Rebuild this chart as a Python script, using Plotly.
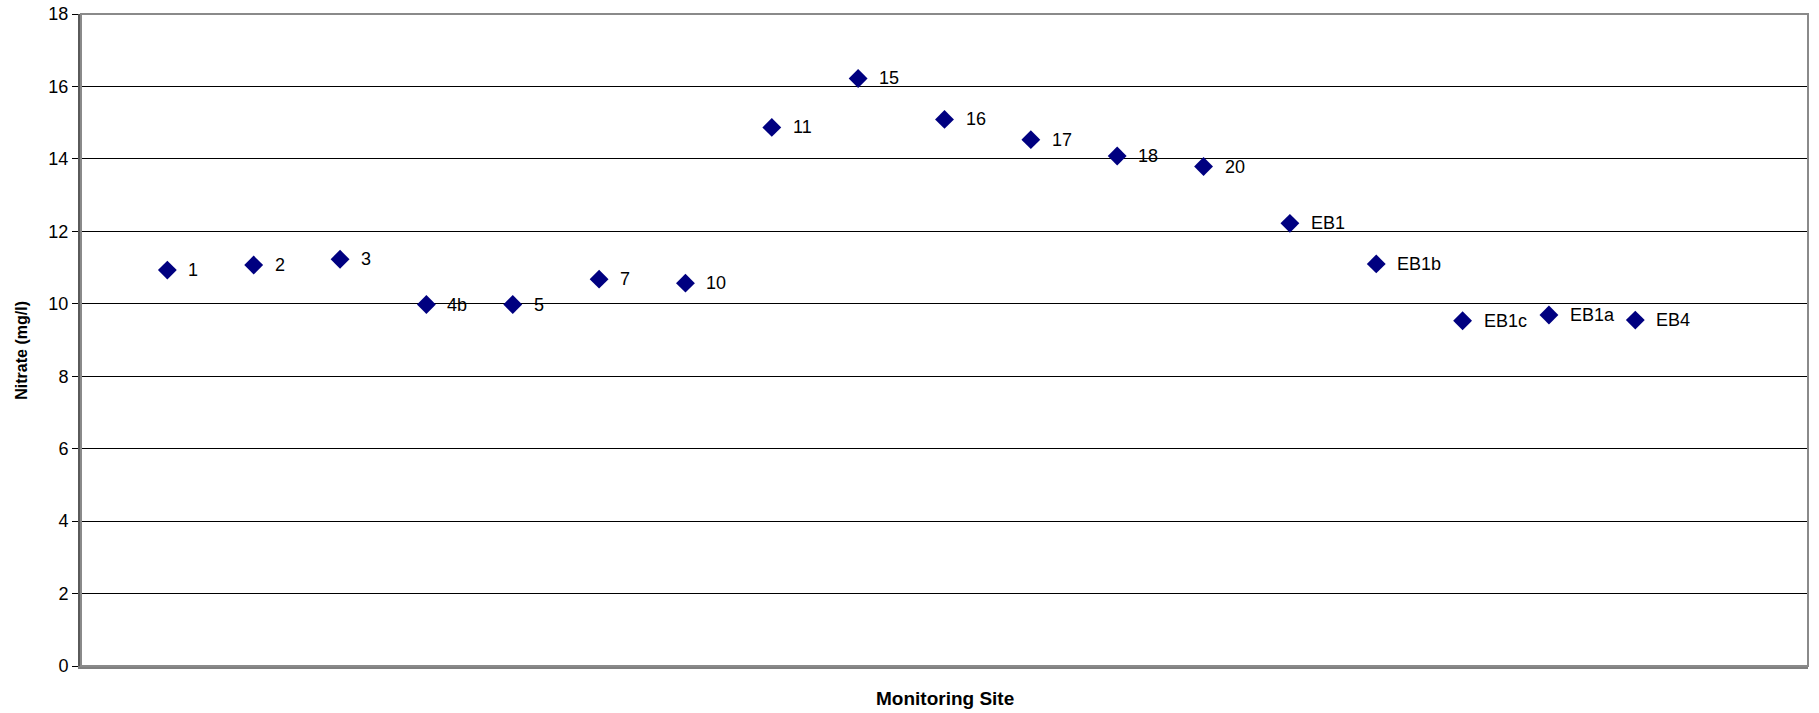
import plotly.graph_objects as go

# Nitrate concentration by monitoring site
sites = ["1", "2", "3", "4b", "5", "7", "10", "11", "15", "16", "17", "18", "20",
         "EB1", "EB1b", "EB1c", "EB1a", "EB4"]
nitrate = [10.93, 11.07, 11.23, 9.98, 9.98, 10.68, 10.57, 14.87, 16.22, 15.09,
           14.53, 14.08, 13.79, 12.22, 11.10, 9.53, 9.69, 9.55]
y_ticks = [0, 2, 4, 6, 8, 10, 12, 14, 16, 18]

positions = list(range(1, len(sites) + 1))
FONT = "Liberation Sans, Arial, sans-serif"

fig = go.Figure()
fig.add_trace(go.Scatter(
    x=positions,
    y=nitrate,
    mode="markers",
    marker=dict(symbol="diamond", size=14.5, color="#000080",
                line=dict(width=0)),
    hovertext=sites,
    showlegend=False,
))

# site labels beside each point
for xp, val, name in zip(positions, nitrate, sites):
    fig.add_annotation(
        x=xp, y=val, text=name, showarrow=False,
        xanchor="left", yanchor="middle", xshift=19, yshift=0,
        font=dict(family=FONT, size=18, color="#000000"),
    )

# axis titles
fig.add_annotation(
    xref="paper", yref="paper", x=0.5003, y=-0.05,
    text="<b>Monitoring Site</b>", showarrow=False,
    xanchor="center", yanchor="middle",
    font=dict(family=FONT, size=19, color="#000000"),
)
fig.add_annotation(
    xref="paper", yref="paper", x=-0.0342, y=0.485,
    text="<b>Nitrate (mg/l)</b>", showarrow=False, textangle=-90,
    xanchor="center", yanchor="middle",
    font=dict(family=FONT, size=16, color="#000000"),
)

# outer frame (top and right edges)
fig.add_shape(type="rect", xref="paper", yref="paper", x0=0, y0=0, x1=1, y1=1,
              line=dict(color="#8a8a8a", width=2), layer="above")

fig.update_layout(
    width=1819, height=713,
    margin=dict(l=81, r=11, t=14, b=47),
    paper_bgcolor="white",
    plot_bgcolor="white",
    font=dict(family=FONT, size=18, color="#000000"),
    xaxis=dict(
        range=[0, 20],
        automargin=False,
        showgrid=False, zeroline=False,
        showticklabels=False, ticks="",
        showline=True, linecolor="#808080", linewidth=3,
    ),
    yaxis=dict(
        range=[0, 18],
        automargin=False,
        tickvals=y_ticks,
        ticktext=[str(v) for v in y_ticks],
        showgrid=True, gridcolor="#000000", gridwidth=1,
        zeroline=False,
        ticks="outside", ticklen=6, tickcolor="#000000", tickwidth=1,
        showline=True, linecolor="#5a5a5a", linewidth=3,
        tickfont=dict(family=FONT, size=18),
    ),
)

fig.write_html("out.html")
